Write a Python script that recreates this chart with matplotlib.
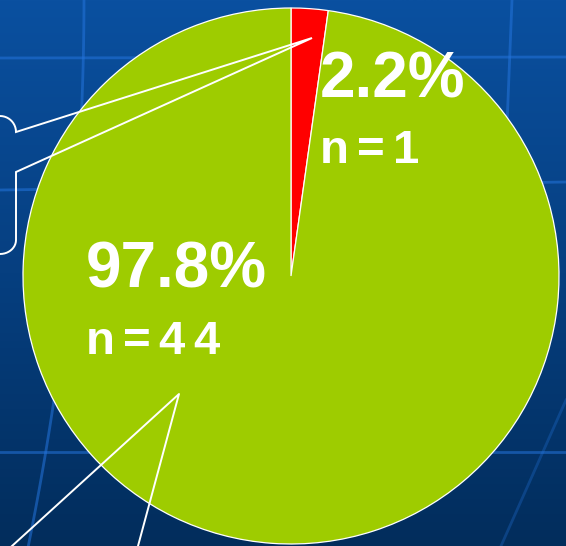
"""Pie chart on a blue slide background: 2.2% (n=1) vs 97.8% (n=44)."""

import numpy as np
import matplotlib
matplotlib.use("Agg")
import matplotlib.pyplot as plt
from matplotlib.colors import LinearSegmentedColormap

# Data
categories = ["minor", "major"]
counts = [1, 44]
colors = ["#FF0000", "#9ECC00"]

W, H = 566, 546
FONT = "Liberation Sans"


def spaced_text(ax, x, y, s, gap, **kw):
    # draw characters one by one to get the wide letter spacing of the slide
    r = ax.figure.canvas.get_renderer()
    for ch in s:
        t = ax.text(x, y, ch, **kw)
        x += t.get_window_extent(renderer=r).width + gap


fig = plt.figure(figsize=(W / 100, H / 100), dpi=100)
ax = fig.add_axes([0, 0, 1, 1])

# Pie (y axis gets inverted below, so startangle -90 = 12 o'clock, ccw = clockwise on screen)
ax.pie(counts, colors=colors, startangle=-90, counterclock=True,
       center=(291, 276), radius=268,
       wedgeprops=dict(edgecolor="white", linewidth=0.9, zorder=2))
ax.set_xlim(0, W)
ax.set_ylim(H, 0)
ax.set_aspect("equal")
ax.axis("off")

# Background gradient
bg = LinearSegmentedColormap.from_list("bg", ["#0A50A0", "#063F80", "#022D5C"])
ax.imshow(np.linspace(0, 1, 256)[:, None], cmap=bg, aspect="auto",
          extent=[0, W, H, 0], zorder=0)

# Globe-like grid in the background
gcol, galpha, glw = "#2474DC", 0.55, 2.0
for y0, y1 in [(58, 57), (190, 182), (452, 452)]:
    ax.plot([0, W], [y0, y1], color=gcol, alpha=galpha, lw=glw, zorder=1)
t = np.linspace(0, 1, 50)
ax.plot(84 - 2 * t * 190 / 546 - 55 * t ** 2, t * 546,
        color=gcol, alpha=galpha, lw=glw, zorder=1)
ax.plot(512 - 12 * t, t * 300, color=gcol, alpha=galpha, lw=glw, zorder=1)
ax.plot(566 - 65 * t, 400 + 146 * t, color=gcol, alpha=0.3, lw=glw, zorder=1)

# Callout leader lines (white)
ca = np.linspace(0, np.pi / 2, 12)
bx = list(16 * np.sin(ca)) + [312, 16, 16] + list(16 * np.cos(ca))
by = list(116 + 16 * (1 - np.cos(ca))) + [38, 172, 240] + list(240 + 14 * np.sin(ca))
ax.plot(bx, by, color="white", lw=1.4, zorder=3, solid_joinstyle="miter")
ax.plot([12, 179, 138], [546, 394, 546], color="white", lw=1.4, zorder=3)

# Labels
total = sum(counts)
pct = [f"{100 * c / total:.1f}%" for c in counts]
big = dict(color="white", fontsize=46, fontweight="bold", family=FONT,
           va="baseline", ha="left", zorder=4)
small = dict(color="white", fontsize=34, fontweight="bold", family=FONT,
             va="baseline", ha="left", zorder=4)
ax.text(320, 97, pct[0], **big)
spaced_text(ax, 320, 163, f"n={counts[0]}", 8, **small)
ax.text(86, 287, pct[1], **big)
spaced_text(ax, 86, 354, f"n={counts[1]}", 8, **small)

fig.savefig("out.png", dpi=100)
